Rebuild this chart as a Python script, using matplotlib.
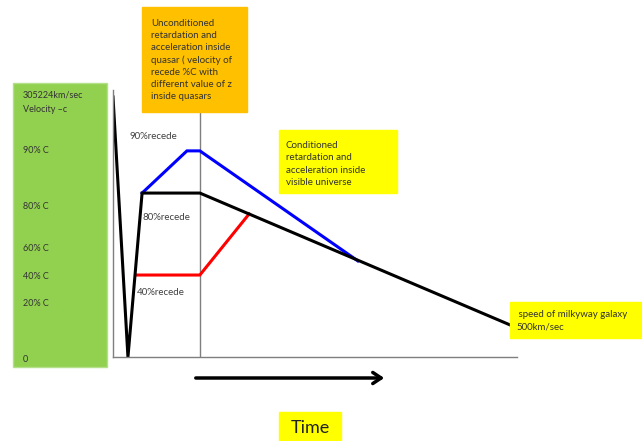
import matplotlib.pyplot as plt
from matplotlib.patches import Rectangle, FancyArrowPatch
from matplotlib.transforms import blended_transform_factory

# schematic data: time (0-100) vs velocity height (0-100 = c)
black_t = [0, 3.7, 7.2, 21.5, 98.3]
black_v = [97.4, 0, 61.4, 61.4, 12.0]
blue_t = [7.2, 18.3, 21.5, 60.6]
blue_v = [61.4, 77.2, 77.2, 36.0]
red_t = [5.7, 21.5, 33.7]
red_v = [30.7, 30.7, 53.6]
quasar_t = 21.5
quasar_top = 91.8

tick_labels = ["90% C", "80% C", "60% C", "40% C", "20% C", "0"]
tick_pos = [77.2, 56.2, 40.8, 30.3, 19.9, -1.1]

recede_labels = ["90%recede", "80%recede", "40%recede"]
recede_t = [4.2, 7.4, 5.9]
recede_v = [82.4, 52.1, 24.0]

W, H = 642, 441
plt.rcParams["font.family"] = ["Lato", "DejaVu Sans"]
fig = plt.figure(figsize=(W / 100, H / 100), dpi=100)


def fx(px):
    return px / W


def fy(py):
    return 1 - py / H


def box(x0, y0, x1, y1, color, edge=None):
    fig.patches.append(Rectangle((fx(x0), fy(y1)), fx(x1) - fx(x0), fy(y0) - fy(y1),
                                 transform=fig.transFigure, facecolor=color,
                                 edgecolor=edge or color, lw=1, zorder=0))


# background boxes
box(13, 83, 107, 367, "#92D050", "#B5E08A")
box(142, 7, 247, 112, "#FFC000")
box(279, 130, 397, 193, "#FFFF00")
box(510, 302, 642, 338, "#FFFF00")
box(279, 412, 341, 441, "#FFFF00")

ax = fig.add_axes([fx(113), fy(357), fx(517) - fx(113), fy(90) - fy(357)])
ax.set_xlim(0, 100)
ax.set_ylim(0, 100)
ax.patch.set_alpha(0)
for s in ["top", "right"]:
    ax.spines[s].set_visible(False)
for s in ["left", "bottom"]:
    ax.spines[s].set_color("#7f7f7f")
    ax.spines[s].set_linewidth(1)
ax.set_xticks([])
ax.set_yticks([])

ax.plot([quasar_t, quasar_t], [0, quasar_top], color="#7f7f7f", lw=1)
ax.plot(blue_t, blue_v, color="#0000FF", lw=2.2, solid_joinstyle="miter")
ax.plot(red_t, red_v, color="#FF0000", lw=2.2, solid_joinstyle="miter")
ax.plot(black_t, black_v, color="black", lw=2.2, solid_joinstyle="miter")

for lab, t, v in zip(recede_labels, recede_t, recede_v):
    ax.text(t, v, lab, fontsize=7, color="#404040", va="center", ha="left")

# velocity labels in the green box
label_tr = blended_transform_factory(fig.transFigure, ax.transData)
for lab, v in zip(tick_labels, tick_pos):
    fig.text(fx(23), v, lab, transform=label_tr,
             fontsize=6.5, color="#333333", va="center", ha="left")
fig.text(fx(23), fy(95), "305224km/sec", fontsize=6.5, color="#333333", va="center")
fig.text(fx(23), fy(109), "Velocity \u2013c", fontsize=6.5, color="#333333", va="center")

fig.text(fx(151), fy(60), "Unconditioned\nretardation and\nacceleration inside\nquasar ( velocity of\n"
         "recede %C with\ndifferent value of z\ninside quasars",
         fontsize=7, color="#333333", va="center", ha="left", linespacing=1.45)
fig.text(fx(286), fy(164), "Conditioned\nretardation and\nacceleration inside\nvisible universe",
         fontsize=7, color="#333333", va="center", ha="left", linespacing=1.45)
fig.text(fx(516), fy(321), " speed of milkyway galaxy\n500km/sec",
         fontsize=7, color="#333333", va="center", ha="left", linespacing=1.45)
fig.text(fx(310), fy(428), "Time", fontsize=13, color="#222222", va="center", ha="center")

fig.patches.append(FancyArrowPatch((fx(193), fy(378)), (fx(387), fy(378)),
                                   transform=fig.transFigure, arrowstyle="->,head_length=6,head_width=4",
                                   lw=2.5, color="black", mutation_scale=1))

fig.savefig("out.png", dpi=100)
